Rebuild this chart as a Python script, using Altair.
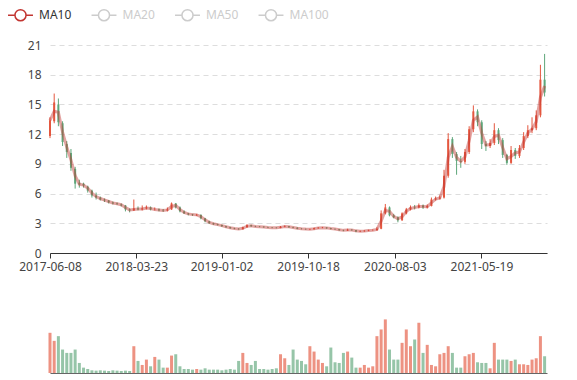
import altair as alt
import pandas as pd

# ---- data (biweekly candles) ----
dates = [d.strftime("%Y-%m-%d") for d in pd.date_range("2017-06-08", periods=119, freq="14D")]

open_ = [
    11.8, 13.3, 15.0, 13.1, 11.0, 10.1, 8.5, 7.1, 7.0, 6.7,
    6.3, 5.8, 5.6, 5.4, 5.3, 5.1, 5.0, 4.9, 4.8, 4.4,
    4.3, 4.5, 4.4, 4.5, 4.6, 4.4, 4.4, 4.35, 4.3, 4.4,
    5.0, 4.6, 4.2, 4.0, 3.9, 3.8, 3.85, 3.5, 3.2, 3.0,
    2.9, 2.83, 2.7, 2.6, 2.5, 2.45, 2.4, 2.6, 2.8, 2.7,
    2.67, 2.65, 2.6, 2.57, 2.55, 2.53, 2.65, 2.7, 2.6, 2.55,
    2.45, 2.43, 2.38, 2.4, 2.5, 2.55, 2.57, 2.5, 2.43, 2.4,
    2.3, 2.27, 2.35, 2.3, 2.17, 2.2, 2.25, 2.3, 2.3, 2.45,
    4.0, 4.6, 3.8, 3.6, 3.3, 4.0, 4.4, 4.65, 4.6, 4.8,
    4.6, 4.75, 5.4, 5.5, 5.6, 7.8, 11.5, 10.0, 9.3, 9.2,
    10.2, 12.5, 14.3, 13.2, 11.0, 10.8, 11.1, 12.4, 11.4, 9.9,
    9.1, 10.4, 9.8, 10.6, 11.8, 12.4, 12.6, 13.9, 17.5,
]
close = [
    13.4, 15.2, 13.2, 11.2, 10.2, 8.6, 7.0, 6.9, 6.8, 6.3,
    5.8, 5.6, 5.4, 5.3, 5.1, 5.0, 4.95, 4.8, 4.4, 4.3,
    4.5, 4.4, 4.5, 4.6, 4.4, 4.4, 4.3, 4.3, 4.4, 5.0,
    4.6, 4.2, 4.0, 3.9, 3.85, 3.85, 3.5, 3.2, 3.0, 2.9,
    2.83, 2.7, 2.6, 2.5, 2.45, 2.4, 2.6, 2.8, 2.7, 2.67,
    2.65, 2.6, 2.57, 2.55, 2.53, 2.65, 2.7, 2.6, 2.55, 2.45,
    2.43, 2.4, 2.4, 2.5, 2.55, 2.57, 2.5, 2.43, 2.4, 2.3,
    2.27, 2.35, 2.3, 2.17, 2.2, 2.25, 2.3, 2.3, 2.45, 4.0,
    4.6, 3.8, 3.6, 3.3, 4.0, 4.4, 4.6, 4.6, 4.8, 4.6,
    4.75, 5.4, 5.5, 5.6, 7.8, 11.5, 10.0, 9.3, 9.2, 10.2,
    12.5, 14.3, 13.2, 11.0, 10.8, 11.1, 12.4, 11.4, 9.9, 9.1,
    10.4, 9.8, 10.6, 11.8, 12.4, 12.6, 13.9, 17.5, 16.2,
]
high = [
    13.7, 16.1, 15.6, 13.3, 11.3, 10.5, 8.7, 7.4, 7.1, 6.8,
    6.4, 6.1, 5.7, 5.5, 5.35, 5.2, 5.1, 5.0, 4.85, 4.5,
    5.4, 4.7, 4.8, 4.8, 4.7, 4.6, 4.5, 4.45, 4.6, 5.1,
    5.05, 4.7, 4.3, 4.05, 3.95, 3.95, 3.9, 3.55, 3.25, 3.05,
    2.95, 2.87, 2.75, 2.65, 2.55, 2.5, 2.65, 2.9, 2.85, 2.75,
    2.72, 2.7, 2.65, 2.62, 2.6, 2.72, 2.78, 2.72, 2.65, 2.6,
    2.5, 2.47, 2.45, 2.56, 2.6, 2.63, 2.6, 2.53, 2.47, 2.43,
    2.35, 2.45, 2.4, 2.33, 2.27, 2.3, 2.35, 2.38, 2.6, 4.3,
    4.95, 4.7, 3.95, 3.7, 4.1, 4.55, 4.8, 4.85, 5.0, 4.9,
    4.9, 5.6, 5.7, 5.8, 8.4, 12.1, 11.7, 10.2, 9.8, 10.5,
    12.8, 14.9, 14.5, 13.4, 11.3, 11.5, 13.1, 12.6, 11.6, 10.0,
    10.8, 10.6, 10.9, 12.2, 12.9, 13.7, 14.4, 19.0, 20.1,
]
low = [
    11.6, 13.1, 12.8, 10.8, 9.6, 8.3, 6.5, 6.6, 6.6, 6.1,
    5.6, 5.4, 5.3, 5.15, 5.0, 4.9, 4.85, 4.7, 4.2, 4.1,
    4.25, 4.3, 4.3, 4.4, 4.3, 4.3, 4.2, 4.15, 4.2, 4.35,
    4.5, 4.1, 3.95, 3.8, 3.75, 3.75, 3.4, 3.1, 2.95, 2.85,
    2.78, 2.65, 2.55, 2.45, 2.4, 2.35, 2.38, 2.55, 2.65, 2.62,
    2.6, 2.55, 2.52, 2.5, 2.48, 2.5, 2.6, 2.55, 2.5, 2.4,
    2.38, 2.35, 2.33, 2.37, 2.46, 2.5, 2.45, 2.38, 2.35, 2.25,
    2.2, 2.22, 2.25, 2.1, 2.12, 2.15, 2.2, 2.25, 2.27, 2.4,
    3.9, 3.7, 3.5, 3.1, 3.25, 3.9, 4.3, 4.4, 4.5, 4.45,
    4.5, 4.7, 5.3, 5.4, 5.5, 7.6, 9.6, 7.9, 8.6, 9.0,
    10.0, 12.2, 12.8, 10.5, 10.3, 10.6, 10.9, 11.0, 9.6, 8.9,
    9.0, 9.5, 9.6, 10.4, 11.6, 12.1, 12.4, 13.7, 15.8,
]
volume = [
    6.0, 4.8, 5.5, 3.5, 3.0, 3.0, 3.5, 1.5, 0.8, 0.6,
    0.4, 0.35, 0.4, 0.35, 0.3, 0.4, 0.35, 0.3, 0.35, 0.3,
    4.0, 1.8, 1.2, 2.0, 1.0, 2.4, 2.0, 0.8, 0.8, 2.6,
    2.8, 1.0, 0.6, 0.6, 0.5, 0.6, 0.5, 0.7, 0.5, 0.5,
    0.5, 0.4, 0.5, 0.6, 0.5, 1.8, 3.0, 1.5, 1.2, 1.8,
    0.6, 0.6, 0.5, 0.6, 0.7, 2.8, 2.2, 1.2, 3.5, 2.0,
    1.8, 1.3, 4.0, 3.2, 2.0, 1.5, 1.0, 3.8, 1.6, 1.5,
    3.0, 3.2, 2.3, 0.8, 0.8, 1.2, 0.8, 1.0, 5.5, 6.5,
    8.0, 3.5, 2.0, 2.0, 4.5, 6.5, 4.0, 5.0, 7.5, 3.0,
    4.2, 1.2, 1.0, 2.8, 3.0, 4.0, 3.0, 0.8, 0.8, 2.5,
    2.8, 3.0, 1.6, 1.5, 1.5, 0.7, 4.5, 2.0, 2.0, 2.0,
    1.8, 2.0, 1.3, 1.3, 1.2, 2.0, 2.2, 5.5, 2.5,
]
ma_names = ["MA10", "MA20", "MA50", "MA100"]
x_ticks = ["2017-06-08", "2018-03-23", "2019-01-02", "2019-10-18", "2020-08-03", "2021-05-19"]
x_end = "2021-12-24"
y_ticks = [0, 3, 6, 9, 12, 15, 18, 21]

RED = "#e4573f"
GREEN = "#5ea67a"
MA_COLOR = "#c23531"
LIGHT = "#cccccc"
FONT = "Noto Sans"

df = pd.DataFrame(dict(date=dates, open=open_, close=close, high=high,
                       low=low, volume=volume))
df["series"] = "MA10"


def dt(s):
    y, m, d = map(int, s.split("-"))
    return alt.DateTime(year=y, month=m, date=d, utc=True)


x_scale = alt.Scale(type="utc", domain=[dt(x_ticks[0]), dt(x_end)], padding=0)
color_cond = alt.condition("datum.close >= datum.open", alt.value(RED), alt.value(GREEN))

x_top = alt.X("date:T", scale=x_scale, title=None,
              axis=alt.Axis(values=[dt(s) for s in x_ticks], format="%Y-%m-%d",
                            labelFontSize=12, labelColor="#444", domainColor="#333",
                            tickColor="#333", tickSize=5, labelPadding=3, grid=False,
                            labelFlush=False, labelOverlap=False))
y_scale = alt.Scale(domain=[0, 21], nice=False, zero=True)
y_axis = alt.Axis(values=y_ticks, title=None, domain=False, ticks=False, tickSize=0,
                  labelPadding=9, labelFontSize=12, labelColor="#444",
                  labelOverlap=False, gridDash=[5, 4], gridColor="#dddddd",
                  minExtent=42)

base = alt.Chart(df).encode(x=x_top)

wick = base.mark_rule(strokeWidth=1).encode(
    y=alt.Y("low:Q", scale=y_scale, axis=y_axis, title=None),
    y2="high:Q", color=color_cond)
body = base.mark_bar(size=2).encode(
    y=alt.Y("open:Q", scale=y_scale, axis=y_axis, title=None),
    y2="close:Q", color=color_cond)

sym_path = ("M-2.08,0L-0.92,0M0.92,0L2.08,0M0.92,0"
            "A0.92,0.92,0,1,1,-0.92,0A0.92,0.92,0,1,1,0.92,0")
ma = base.transform_window(
    ma10="mean(close)", frame=[-1, 0], sort=[{"field": "date"}]
).mark_line(strokeWidth=3, opacity=0.45).encode(
    y=alt.Y("ma10:Q", scale=y_scale, axis=y_axis, title=None),
    color=alt.Color("series:N",
                    scale=alt.Scale(domain=ma_names, range=[MA_COLOR, LIGHT, LIGHT, LIGHT]),
                    legend=alt.Legend(
                        title=None, orient="none", legendX=-36.5, legendY=-37,
                        direction="horizontal", symbolType=sym_path, symbolSize=144,
                        symbolStrokeWidth=1.5, symbolOpacity=1, symbolFillColor="#ffffff",
                        labelFontSize=12, labelOffset=11.5, columnPadding=16.5,
                        labelFont=FONT,
                        labelColor=alt.ExprRef(
                            "datum.value === 'MA10' ? '#333333' : '#cccccc'"),
                    )))

top = alt.layer(wick, body, ma).properties(width=497, height=208)

vol_chart = alt.Chart(df).mark_bar(size=3, opacity=0.65).encode(
    x=alt.X("date:T", scale=x_scale, title=None,
            axis=alt.Axis(labels=False, ticks=False, grid=False, domainColor="#666666")),
    y=alt.Y("volume:Q", scale=alt.Scale(domain=[0, 10], nice=False), title=None,
            axis=alt.Axis(labelOpacity=0, ticks=False, domain=False, grid=False,
                          minExtent=42, labelFontSize=12)),
    color=color_cond,
).properties(width=497, height=67)

chart = alt.vconcat(top, vol_chart, spacing=28).properties(padding=0).configure(
    font=FONT).configure_view(stroke=None)

chart.save("out.html", embed_options={"renderer": "svg", "actions": False})
